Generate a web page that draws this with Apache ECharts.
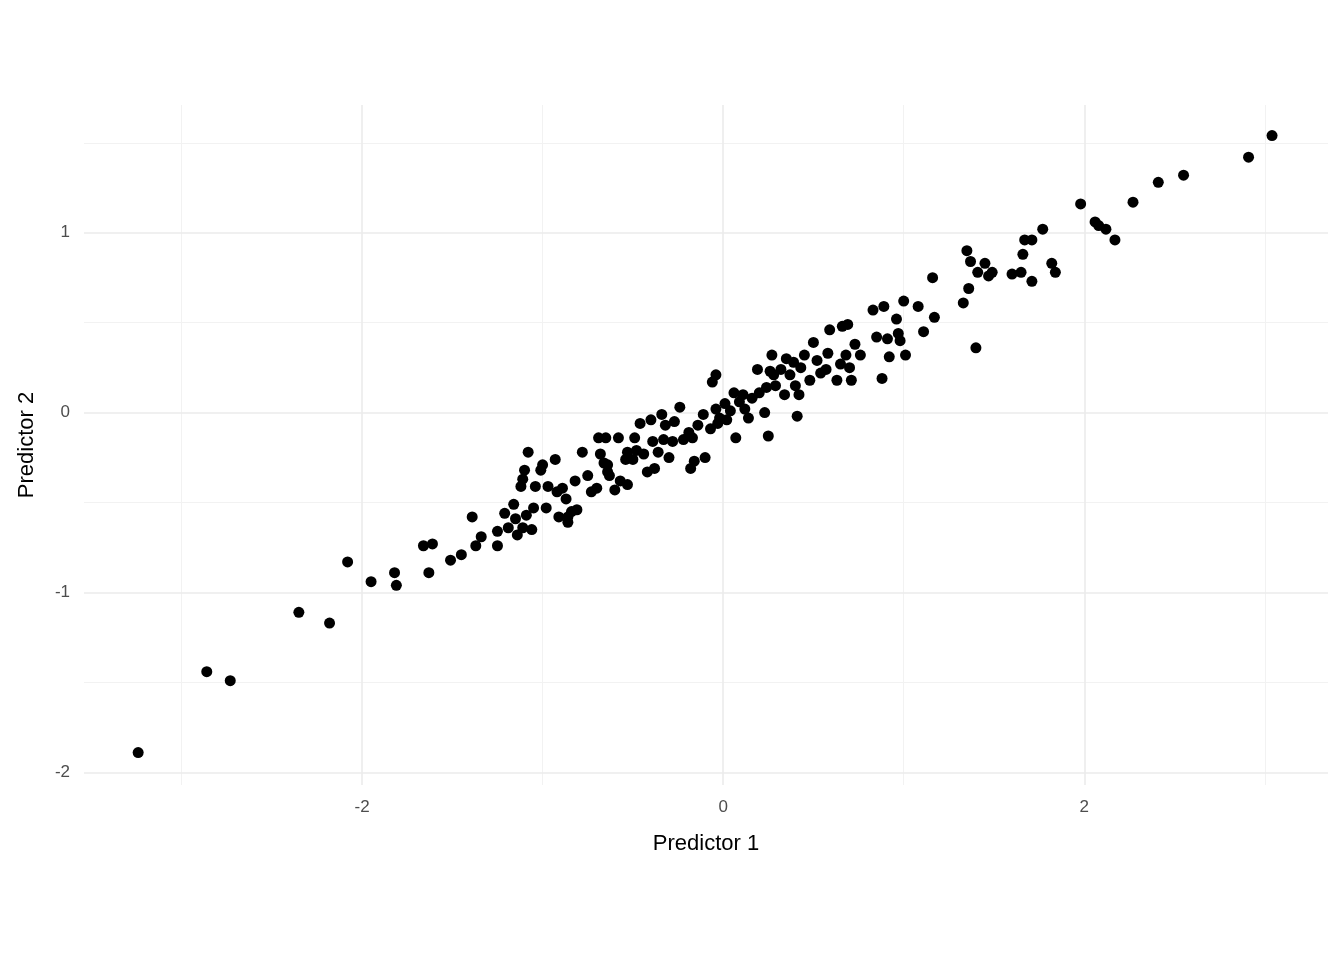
<!DOCTYPE html>
<html><head><meta charset="utf-8">
<script src="https://cdn.jsdelivr.net/npm/echarts@6/dist/echarts.min.js"></script>
<style>html,body{margin:0;padding:0;background:#fff}#c{width:1344px;height:960px}</style>
</head><body><div id="c"></div>
<script>
const xVals=[-3.24,-2.86,-2.73,-2.35,-2.18,-2.08,-1.95,-1.82,-1.81,-1.66,-1.61,-1.63,-1.51,-1.45,-1.39,-1.37,-1.34,-1.25,-1.25,-1.21,-1.19,-1.16,-1.15,-1.14,-1.12,-1.11,-1.10,-1.08,-1.11,-1.09,-1.05,-1.06,-1.04,-1.01,-1.00,-0.98,-0.97,-0.93,-0.92,-0.91,-0.89,-0.87,-0.86,-0.86,-0.84,-0.82,-0.81,-0.78,-0.75,-0.73,-0.70,-0.69,-0.68,-0.66,-0.65,-0.64,-0.64,-0.63,-0.60,-0.58,-0.57,-0.54,-0.53,-0.53,-0.50,-0.49,-0.48,-0.46,-0.44,-0.42,-0.40,-0.39,-0.38,-0.36,-0.34,-0.33,-0.32,-0.30,-0.28,-0.27,-0.24,-0.22,-0.19,-0.18,-0.17,-0.16,-0.14,-0.11,-0.10,-0.07,-0.06,-0.04,-0.04,-0.03,-0.02,0.01,0.02,0.04,0.06,0.07,0.09,0.11,0.12,0.14,0.16,0.19,0.20,0.23,0.24,0.25,0.26,0.27,0.28,0.29,0.32,0.34,0.35,0.37,0.39,0.40,0.41,0.42,0.43,0.45,0.48,0.50,0.52,0.54,0.57,0.58,0.59,0.63,0.65,0.66,0.68,0.69,0.70,0.71,0.73,0.76,0.83,0.85,0.88,0.89,0.91,0.92,0.96,0.97,0.98,1.00,1.01,1.08,1.11,1.16,1.17,1.33,1.35,1.36,1.37,1.40,1.41,1.45,1.47,1.49,1.60,1.65,1.66,1.67,1.71,1.71,1.77,1.82,1.84,1.98,2.06,2.08,2.12,2.17,2.27,2.41,2.55,2.91,3.04];
const yVals=[-1.89,-1.44,-1.49,-1.11,-1.17,-0.83,-0.94,-0.89,-0.96,-0.74,-0.73,-0.89,-0.82,-0.79,-0.58,-0.74,-0.69,-0.66,-0.74,-0.56,-0.64,-0.51,-0.59,-0.68,-0.41,-0.37,-0.32,-0.22,-0.64,-0.57,-0.53,-0.65,-0.41,-0.32,-0.29,-0.53,-0.41,-0.26,-0.44,-0.58,-0.42,-0.48,-0.58,-0.61,-0.55,-0.38,-0.54,-0.22,-0.35,-0.44,-0.42,-0.14,-0.23,-0.28,-0.14,-0.33,-0.29,-0.35,-0.43,-0.14,-0.38,-0.26,-0.40,-0.22,-0.26,-0.14,-0.21,-0.06,-0.23,-0.33,-0.04,-0.16,-0.31,-0.22,-0.01,-0.15,-0.07,-0.25,-0.16,-0.05,0.03,-0.15,-0.11,-0.31,-0.14,-0.27,-0.07,-0.01,-0.25,-0.09,0.17,0.21,0.02,-0.06,-0.03,0.05,-0.04,0.01,0.11,-0.14,0.06,0.10,0.02,-0.03,0.08,0.24,0.11,0.00,0.14,-0.13,0.23,0.32,0.21,0.15,0.24,0.10,0.30,0.21,0.28,0.15,-0.02,0.10,0.25,0.32,0.18,0.39,0.29,0.22,0.24,0.33,0.46,0.18,0.27,0.48,0.32,0.49,0.25,0.18,0.38,0.32,0.57,0.42,0.19,0.59,0.41,0.31,0.52,0.44,0.40,0.62,0.32,0.59,0.45,0.75,0.53,0.61,0.90,0.69,0.84,0.36,0.78,0.83,0.76,0.78,0.77,0.78,0.88,0.96,0.73,0.96,1.02,0.83,0.78,1.16,1.06,1.04,1.02,0.96,1.17,1.28,1.32,1.42,1.54];
const xMajor=[-2,0,2], xMinor=[-3,-1,1,3];
const yMajor=[-2,-1,0,1], yMinor=[-1.5,-0.5,0.5,1.5];
const xTickLabels=[-2,0,2], yTickLabels=[-2,-1,0,1];
const pts=xVals.map((x,i)=>[x,yVals[i]]);
const major={color:'#ebebeb',width:1.6,type:'solid'}, minor={color:'#f2f2f2',width:1,type:'solid'};
const gridLines=[
 ...xMinor.map(v=>({xAxis:v,lineStyle:minor})),
 ...yMinor.map(v=>({yAxis:v,lineStyle:minor})),
 ...xMajor.map(v=>({xAxis:v,lineStyle:major})),
 ...yMajor.map(v=>({yAxis:v,lineStyle:major}))];
const lab={color:'#4d4d4d',fontSize:17,fontFamily:'Liberation Sans, Arial'};
const chart=echarts.init(document.getElementById('c'));
chart.setOption({
 animation:false,
 grid:{left:84,right:16,top:105,bottom:175,containLabel:false},
 xAxis:{type:'value',min:-3.54,max:3.35,axisLine:{show:false},axisTick:{show:false},splitLine:{show:false},
  axisLabel:Object.assign({customValues:xTickLabels,margin:14,formatter:v=>String(v).replace('-','-')},lab),
  name:'Predictor 1',nameLocation:'middle',nameGap:48,nameTextStyle:{color:'#000',fontSize:22,fontFamily:'Liberation Sans, Arial'}},
 yAxis:{type:'value',min:-2.07,max:1.71,axisLine:{show:false},axisTick:{show:false},splitLine:{show:false},
  axisLabel:Object.assign({customValues:yTickLabels,margin:14},lab),
  name:'Predictor 2',nameLocation:'middle',nameGap:46,nameTextStyle:{color:'#000',fontSize:22,fontFamily:'Liberation Sans, Arial'}},
 series:[{type:'scatter',data:pts,symbolSize:11,itemStyle:{color:'#000',opacity:1},z:5,
  markLine:{silent:true,symbol:'none',label:{show:false},animation:false,data:gridLines,z:1}}]
});
</script></body></html>
